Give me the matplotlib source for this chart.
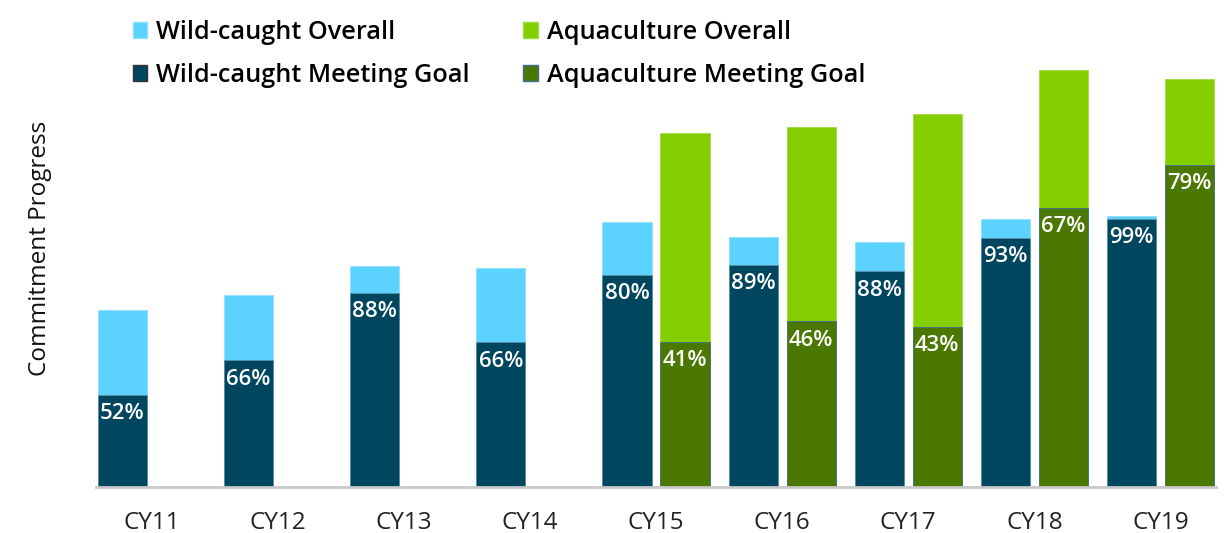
import numpy as np
import matplotlib
matplotlib.use('Agg')
import matplotlib.pyplot as plt
from matplotlib.patches import Patch

plt.rcParams['font.family'] = ['Open Sans', 'DejaVu Sans']

# Data (overall heights in arbitrary units, share meeting goal in %)
years = ['CY11', 'CY12', 'CY13', 'CY14', 'CY15', 'CY16', 'CY17', 'CY18', 'CY19']
wild_overall = [177, 192, 221, 219, 265, 250, 245, 268, 271]
wild_pct = [52, 66, 88, 66, 80, 89, 88, 93, 99]
aqua_overall = [np.nan, np.nan, np.nan, np.nan, 354, 360, 373, 417, 408]
aqua_pct = [np.nan, np.nan, np.nan, np.nan, 41, 46, 43, 67, 79]

c_wild_light = '#5CD2FF'
c_wild_dark = '#00465F'
c_aqua_light = '#82CE00'
c_aqua_dark = '#4B7800'

wild_overall = np.array(wild_overall, dtype=float)
aqua_overall = np.array(aqua_overall, dtype=float)
wild_meet = wild_overall * np.array(wild_pct) / 100
aqua_meet = aqua_overall * np.array(aqua_pct, dtype=float) / 100

x = np.arange(len(years))
w = 0.39
off = 0.23

fig = plt.figure(figsize=(12.28, 5.33), dpi=100)
ax = fig.add_axes([96 / 1228, 46 / 533, 1120 / 1228, 427 / 533])

ax.bar(x - off, wild_overall, w, color=c_wild_light, edgecolor='#8FE0FF', linewidth=0.6)
ax.bar(x - off, wild_meet, w, color=c_wild_dark, edgecolor='#5C8FA8', linewidth=0.6)
has_aqua = ~np.isnan(aqua_overall)
ax.bar(x[has_aqua] + off, aqua_overall[has_aqua], w, color=c_aqua_light, edgecolor='#A0DD40', linewidth=0.6)
ax.bar(x[has_aqua] + off, aqua_meet[has_aqua], w, color=c_aqua_dark, edgecolor='#3F6A9A', linewidth=0.6)

for i in range(len(years)):
    ax.annotate(f'{wild_pct[i]}%', (x[i] - off, wild_meet[i]), xytext=(0, -6),
                textcoords='offset points', ha='center', va='top',
                color='white', fontsize=16, fontweight='semibold')
    if has_aqua[i]:
        ax.annotate(f'{int(aqua_pct[i])}%', (x[i] + off, aqua_meet[i]), xytext=(0, -6),
                    textcoords='offset points', ha='center', va='top',
                    color='white', fontsize=16, fontweight='semibold')

ax.set_xlim(-0.44, 8.44)
ax.set_ylim(0, 427)
ax.set_xticks(x)
ax.set_xticklabels(years, fontsize=17.5, color='#222222')
ax.tick_params(axis='x', length=0, pad=17)
ax.set_yticks([])
for s in ['top', 'right', 'left']:
    ax.spines[s].set_visible(False)
ax.spines['bottom'].set_color('#C8C8C8')
ax.spines['bottom'].set_linewidth(2)

ax.set_ylabel('Commitment Progress', fontsize=17.5, color='#111111')
ax.yaxis.set_label_coords(-44 / 1120, 0.56)

handles = [Patch(facecolor=c_wild_light, edgecolor='#8FE0FF', label='Wild-caught Overall'),
           Patch(facecolor=c_wild_dark, edgecolor='#333333', label='Wild-caught Meeting Goal'),
           Patch(facecolor=c_aqua_light, edgecolor='#A0DD40', label='Aquaculture Overall'),
           Patch(facecolor=c_aqua_dark, edgecolor='#3F6A9A', label='Aquaculture Meeting Goal')]
fig.legend(handles=handles, ncol=2, loc='upper left', bbox_to_anchor=(110 / 1228, 1 + 3 / 533),
           frameon=False, prop={'size': 18.2, 'weight': 'semibold'},
           handlelength=0.58, handleheight=0.58,
           handletextpad=0.35, columnspacing=2.12, labelspacing=0.72)

fig.savefig('out.png', dpi=100)
